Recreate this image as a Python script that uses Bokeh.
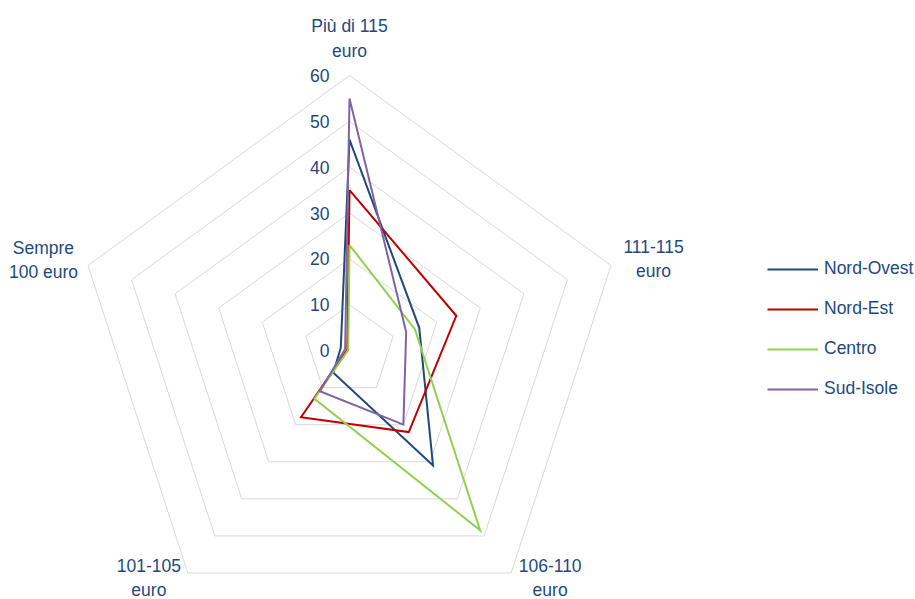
import numpy as np
from bokeh.plotting import figure
from bokeh.models import Range1d, Legend, LegendItem
from bokeh.embed import file_html
from bokeh.resources import INLINE
from bokeh.core.properties import value

# ---- data ----
categories = ["Più di 115\neuro", "111-115\neuro", "106-110\neuro", "101-105\neuro", "Sempre\n100 euro"]
series_names = ["Nord-Ovest", "Nord-Est", "Centro", "Sud-Isole"]
nord_ovest = [46, 16, 31, 6, 2]
nord_est = [35, 24.5, 22, 18, 0.5]
centro = [23, 15, 48.5, 13, 0.3]
sud_isole = [55, 13, 20, 11, 1]
ring_values = [10, 20, 30, 40, 50, 60]
tick_values = [0, 10, 20, 30, 40, 50, 60]
tick_labels = ["0", "10", "20", "30", "40", "50", "60"]

# ---- styling / layout ----
colors = ["#1F497D", "#C00000", "#92D050", "#8064A2"]
text_color = "#1F497D"
font = "Liberation Sans"
fsize = "17.5px"
W, H = 915, 599
cx_px, cy_px = 349, 350          # chart centre in frame pixels
rmax = 60
scale = 275.0 / rmax             # px per unit

n = len(categories)
theta = 2 * np.pi * np.arange(n) / n


def to_xy(vals):
    v = np.asarray(vals, dtype=float)
    x = v * np.sin(theta)
    y = v * np.cos(theta)
    return list(np.append(x, x[0])), list(np.append(y, y[0]))


p = figure(width=W, height=H, output_backend="svg", toolbar_location=None,
           x_axis_type=None, y_axis_type=None, min_border=0,
           x_range=Range1d(-cx_px / scale, (W - cx_px) / scale),
           y_range=Range1d(-(H - cy_px) / scale, cy_px / scale))
p.outline_line_color = None
p.grid.visible = False
p.background_fill_color = "white"
p.border_fill_color = "white"

# grid rings
xs, ys = [], []
for r in ring_values:
    x, y = to_xy([r] * n)
    xs.append(x)
    ys.append(y)
p.multi_line(xs, ys, line_color="#D9D9D9", line_width=1)

# radial tick labels
p.text(x=[0] * len(tick_values), y=tick_values, text=tick_labels,
       x_offset=-20, text_align="right", text_baseline="middle",
       text_font=value(font), text_font_size=fsize, text_color=text_color)

# category labels
lx = list(rmax * np.sin(theta))
ly = list(rmax * np.cos(theta))
x_off = [0, 42.5, 39, -39, -44.5]
y_off = [-37, -6.5, 5, 5, -5.5]
p.text(x=lx, y=ly, text=categories, x_offset=x_off, y_offset=y_off,
       text_align="center", text_baseline="middle", text_line_height=1.24,
       text_font=value(font), text_font_size=fsize, text_color=text_color)

# series
items = []
for name, vals, c in zip(series_names, [nord_ovest, nord_est, centro, sud_isole], colors):
    x, y = to_xy(vals)
    r = p.line(x, y, line_color=c, line_width=2, line_join="miter")
    items.append(LegendItem(label=name, renderers=[r]))

legend = Legend(items=items, location=(767, 200), glyph_width=51, glyph_height=20,
                label_height=20, spacing=19, padding=0, margin=0,
                label_standoff=6, border_line_color=None, background_fill_alpha=0,
                label_text_font=font, label_text_font_size=fsize,
                label_text_color=text_color)
p.add_layout(legend)

open("out.html", "w").write(file_html(p, INLINE))
